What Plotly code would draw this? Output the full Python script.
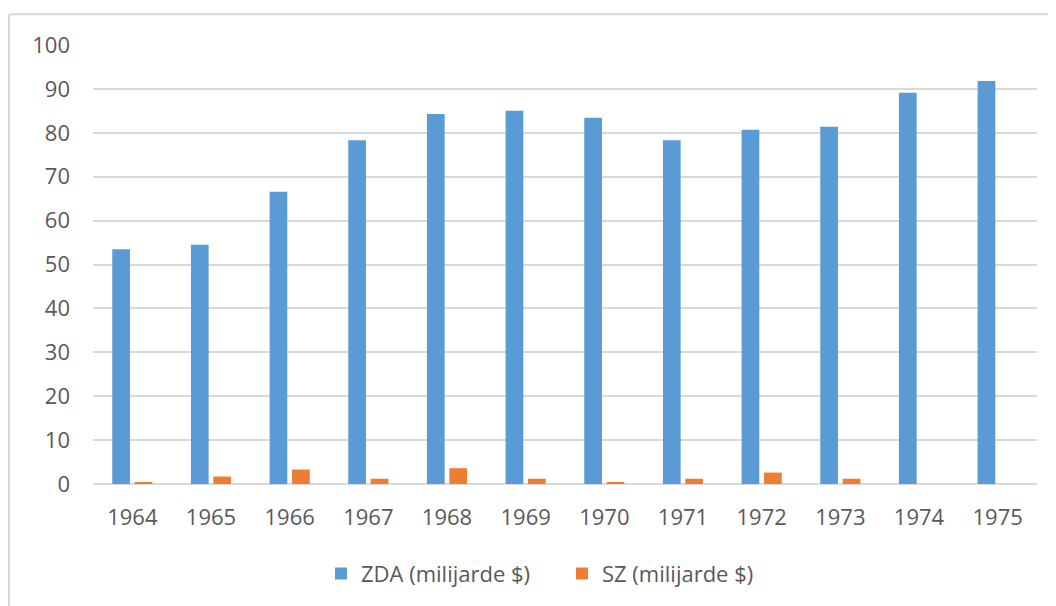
import plotly.graph_objects as go

years = ["1964", "1965", "1966", "1967", "1968", "1969", "1970", "1971", "1972", "1973", "1974", "1975"]
zda = [53.5, 54.5, 66.6, 78.3, 84.3, 85.0, 83.4, 78.3, 80.7, 81.4, 89.1, 91.8]
sz = [0.4, 1.7, 3.3, 1.2, 3.6, 1.2, 0.4, 1.2, 2.6, 1.2, 0, 0]
y_ticks = [0, 10, 20, 30, 40, 50, 60, 70, 80, 90, 100]

# page has an 8px body margin; figure coords = page coords - 8
OFF = 8
W, H = 1056 - OFF, 606 - OFF
ML, MT = 93 - OFF, 45 - OFF
PW, PH = 944, 441
MR = W - ML - PW
MB = H - MT - PH

FONT = "Open Sans"
GRAY = "#595959"
GRID = "#d9d9d9"
FS = 22

fig = go.Figure()
fig.add_trace(go.Bar(
    x=years, y=zda, name="ZDA (milijarde $)",
    marker=dict(color="#5b9bd5", line=dict(width=0)),
    width=0.225, offset=-0.255,
))
fig.add_trace(go.Bar(
    x=years, y=sz, name="SZ (milijarde $)",
    marker=dict(color="#ed7d31", line=dict(width=0)),
    width=0.225, offset=0.03,
))

def px_x(px):
    return (px - OFF - ML) / PW

def px_y(py):
    return (MT + PH - (py - OFF)) / PH

shapes = [
    dict(type="line", xref="paper", yref="paper",
         x0=px_x(9), x1=px_x(1060), y0=px_y(14), y1=px_y(14),
         line=dict(color=GRID, width=2)),
    dict(type="line", xref="paper", yref="paper",
         x0=px_x(9), x1=px_x(9), y0=px_y(14), y1=px_y(610),
         line=dict(color=GRID, width=2)),
]

fig.update_layout(
    width=W, height=H,
    margin=dict(l=ML, r=MR, t=MT, b=MB),
    paper_bgcolor="white", plot_bgcolor="white",
    font=dict(family=FONT, color=GRAY, size=FS),
    barmode="group",
    showlegend=True,
    legend=dict(orientation="h", x=px_x(321), xanchor="left", y=px_y(576), yanchor="middle",
                font=dict(family=FONT, size=FS, color=GRAY), itemwidth=30,
                entrywidth=196, entrywidthmode="pixels",
                traceorder="normal"),
    xaxis=dict(showgrid=False, showline=False, ticks="", zeroline=False,
               tickfont=dict(family=FONT, size=FS, color=GRAY), ticklabelstandoff=18),
    yaxis=dict(range=[0, 100], tickvals=y_ticks, showgrid=True, gridcolor=GRID, gridwidth=1.5,
               zeroline=True, zerolinecolor=GRID, zerolinewidth=2, showline=False, ticks="",
               tickfont=dict(family=FONT, size=FS, color=GRAY), ticklabelstandoff=22),
    shapes=shapes,
)

fig.write_html("out.html")
